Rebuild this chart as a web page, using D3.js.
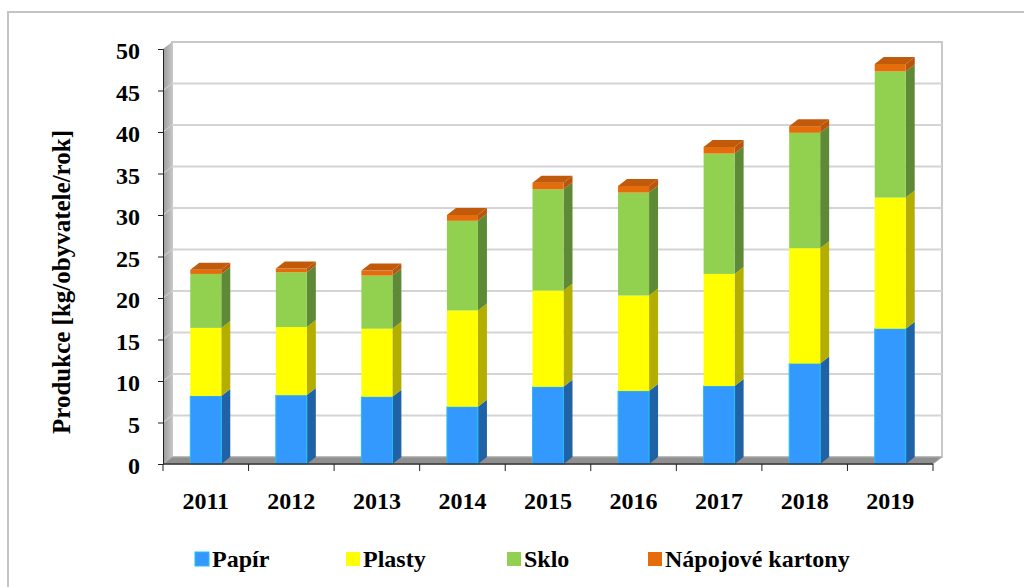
<!DOCTYPE html>
<html>
<head>
<meta charset="utf-8">
<script src="https://cdn.jsdelivr.net/npm/d3@7"></script>
<style>
  body { margin: 0; background: #fff; }
  text { font-family: "Liberation Serif", "Times New Roman", serif; font-weight: bold; fill: #000; }
</style>
</head>
<body>
<svg id="main" width="1024" height="587"></svg>
<script>
let years = ["2011","2012","2013","2014","2015","2016","2017","2018","2019"]
let papir  = [8.2, 8.3, 8.1, 6.9, 9.3, 8.8, 9.4, 12.1, 16.3]
let plasty = [8.2, 8.2, 8.2, 11.6, 11.6, 11.5, 13.5, 13.9, 15.8]
let sklo   = [6.5, 6.6, 6.4, 10.8, 12.2, 12.4, 14.5, 13.9, 15.2]
let kartony = [0.5, 0.45, 0.6, 0.7, 0.8, 0.8, 0.8, 0.8, 0.9]
let seriesNames = ["Papír", "Plasty", "Sklo", "Nápojové kartony"]
let yTicks = [0, 5, 10, 15, 20, 25, 30, 35, 40, 45, 50]

let front = ["#3399ff", "#ffff00", "#92d050", "#e46c0a"]
let side  = ["#1f62a6", "#b3ae00", "#5e8a37", "#b9560c"]
let topC  = ["#2a7fd6", "#d9d400", "#7ab040", "#c25a0c"]

let svg = d3.select("#main")

// outer frame
svg.append("rect").attr("x", 8).attr("y", 12).attr("width", 1100).attr("height", 700)
    .attr("fill", "none").attr("stroke", "#c4c4c4").attr("stroke-width", 2)

let left = 163, right = 933, dx = 9, dy = -7
let yScale = d3.scaleLinear().domain([0, 50]).range([464, 49])
let xScale = d3.scaleBand().domain(years).range([left, right])
let barW = 31

// back wall
svg.append("rect").attr("x", left + dx).attr("y", yScale(50) + dy)
    .attr("width", right - left).attr("height", yScale(0) - yScale(50))
    .attr("fill", "#fff").attr("stroke", "#c8c8c8").attr("stroke-width", 2)

// grid lines
svg.selectAll(".grid").data(yTicks.slice(1, -1)).enter().append("line")
    .attr("x1", left + dx).attr("x2", right + dx)
    .attr("y1", d => yScale(d) + dy).attr("y2", d => yScale(d) + dy)
    .attr("stroke", "#d4d4d4").attr("stroke-width", 2)

// left wall
let lg = svg.append("defs").append("linearGradient").attr("id", "wall")
lg.append("stop").attr("offset", "0%").attr("stop-color", "#9a9a9a")
lg.append("stop").attr("offset", "100%").attr("stop-color", "#c4c4c4")
svg.append("polygon")
    .attr("points", [[left, yScale(0)], [left, yScale(50)], [left + dx, yScale(50) + dy], [left + dx, yScale(0) + dy]].join(" "))
    .attr("fill", "url(#wall)")
svg.selectAll(".wgrid").data(yTicks.slice(1, -1)).enter().append("line")
    .attr("x1", left).attr("x2", left + dx)
    .attr("y1", d => yScale(d)).attr("y2", d => yScale(d) + dy)
    .attr("stroke", "#c8c8c8").attr("stroke-width", 1.5)

// floor
svg.append("polygon")
    .attr("points", [[left, yScale(0)], [left + dx, yScale(0) + dy], [right + dx, yScale(0) + dy], [right, yScale(0)]].join(" "))
    .attr("fill", "#8f8f8f").attr("stroke", "#b0b0b0").attr("stroke-width", 1)

// stacked bars
let table = years.map((y, i) => ({year: y, "Papír": papir[i], "Plasty": plasty[i], "Sklo": sklo[i], "Nápojové kartony": kartony[i]}))
let stacked = d3.stack().keys(seriesNames)(table)

stacked.forEach((layer, k) => {
    let g = svg.append("g")
    layer.forEach(d => {
        let x0 = xScale(d.data.year) + xScale.bandwidth() / 2 - barW / 2
        let yb = yScale(d[0]), yt = yScale(d[1])
        g.append("polygon")
            .attr("points", [[x0 + barW, yb], [x0 + barW + dx, yb + dy], [x0 + barW + dx, yt + dy], [x0 + barW, yt]].join(" "))
            .attr("fill", side[k])
        g.append("rect").attr("x", x0).attr("y", yt).attr("width", barW).attr("height", yb - yt)
            .attr("fill", front[k])
            .attr("stroke", k == 0 ? "#22c0f0" : "none").attr("stroke-width", 1)
        if (k == seriesNames.length - 1) {
            g.append("polygon")
                .attr("points", [[x0, yt], [x0 + dx, yt + dy], [x0 + barW + dx, yt + dy], [x0 + barW, yt]].join(" "))
                .attr("fill", topC[k])
        }
    })
})

// axes
let y_axis = d3.axisLeft(yScale).tickValues(yTicks).tickSize(5).tickPadding(18)
let ya = svg.append("g").attr("transform", `translate(${left},0)`).call(y_axis)
ya.select(".domain").attr("stroke", "#222")
ya.selectAll(".tick line").attr("stroke", "#222")
ya.selectAll(".tick text").style("font-size", "24px").attr("dy", "0.4em")
    .style("font-family", "Liberation Serif").style("font-weight", "bold")

svg.append("line").attr("x1", left).attr("x2", right).attr("y1", yScale(0)).attr("y2", yScale(0))
    .attr("stroke", "#333").attr("stroke-width", 1.5)
svg.selectAll(".xtick").data(years.concat(["end"])).enter().append("line")
    .attr("x1", d => d == "end" ? right : xScale(d)).attr("x2", d => d == "end" ? right : xScale(d))
    .attr("y1", yScale(0)).attr("y2", yScale(0) + 7)
    .attr("stroke", "#222")
svg.selectAll(".xlabel").data(years).enter().append("text")
    .attr("x", d => xScale(d) + xScale.bandwidth() / 2)
    .attr("y", 509)
    .attr("text-anchor", "middle")
    .style("font-size", "24px")
    .text(d => d)

// y title
svg.append("text")
    .attr("transform", `translate(70,282) rotate(-90)`)
    .attr("text-anchor", "middle")
    .style("font-size", "25px")
    .text("Produkce [kg/obyvatele/rok]")

// legend
let legendX = [195, 346, 507, 648]
let legend = svg.selectAll(".legend").data(seriesNames).enter().append("g")
    .attr("transform", (d, i) => `translate(${legendX[i]},552)`)
legend.append("rect").attr("width", 14).attr("height", 14).attr("fill", (d, i) => front[i])
    .attr("stroke", (d, i) => i == 0 ? "#22c0f0" : "none")
legend.append("text").attr("x", 17).attr("y", 15).style("font-size", "24px").text(d => d)
</script>
</body>
</html>
